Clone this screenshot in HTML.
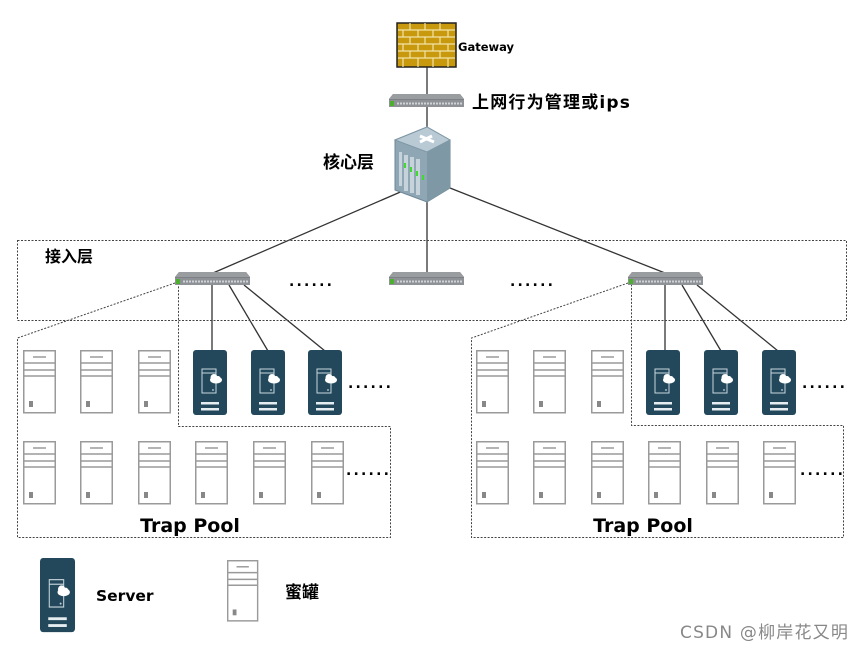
<!DOCTYPE html>
<html><head><meta charset="utf-8"><style>
html,body{margin:0;padding:0;background:#fff;}
svg{display:block;}
text{font-family:"DejaVu Sans","Noto Sans CJK SC",sans-serif;font-weight:bold;fill:#000;}
.d{letter-spacing:2.2px;}
</style></head><body>
<svg width="865" height="650" viewBox="0 0 865 650" xmlns="http://www.w3.org/2000/svg">
<defs>
<g id="hp">
<rect x="0.75" y="0.75" width="31.5" height="62" fill="#fff" stroke="#9a9a9a" stroke-width="1.5"/>
<line x1="10" y1="7" x2="23" y2="7" stroke="#9a9a9a" stroke-width="1.5"/>
<line x1="1" y1="13" x2="32" y2="13" stroke="#9a9a9a" stroke-width="1.5"/>
<line x1="1" y1="20" x2="32" y2="20" stroke="#9a9a9a" stroke-width="1.5"/>
<line x1="1" y1="26" x2="32" y2="26" stroke="#9a9a9a" stroke-width="1.5"/>
<rect x="6" y="51" width="4" height="6" fill="#888"/>
</g>
<g id="sv">
<rect x="0" y="0" width="34" height="65" rx="3" fill="#23485c"/>
<rect x="9" y="19" width="14" height="24" fill="none" stroke="#c9d6dc" stroke-width="1"/>
<line x1="9" y1="23" x2="23" y2="23" stroke="#c9d6dc"/>
<ellipse cx="23" cy="30" rx="6" ry="3.5" fill="#fff"/>
<circle cx="21" cy="27.5" r="3.5" fill="#fff"/>
<circle cx="25" cy="28.5" r="2.5" fill="#fff"/>
<circle cx="20" cy="40" r="0.9" fill="#c9d6dc"/>
<rect x="8" y="52" width="18" height="2.5" fill="#e6edf0"/>
<rect x="8" y="58" width="18" height="2.5" fill="#e6edf0"/>
</g>
<g id="sw">
<polygon points="4,0 71,0 75,5 75,13 0,13 0,5" fill="#7d8084"/>
<polygon points="4,0 71,0 75,5 0,5" fill="#9a9da0"/>
<rect x="0" y="6" width="75" height="7" fill="#8e9195"/>
<rect x="1" y="7" width="4" height="5" fill="#4caf2e"/>
<line x1="8" y1="9.5" x2="73" y2="9.5" stroke="#d0d3d6" stroke-width="2" stroke-dasharray="2 1"/>
</g>
</defs>

<g stroke="#333" stroke-width="1.3" fill="none">
<line x1="427" y1="67" x2="427" y2="130"/>
<line x1="405" y1="190" x2="213" y2="273"/>
<line x1="450" y1="188" x2="665" y2="273"/>
<line x1="427" y1="200" x2="427" y2="273"/>
<line x1="212" y1="285" x2="212" y2="351"/>
<line x1="229" y1="285" x2="268" y2="351"/>
<line x1="244" y1="285" x2="325" y2="351"/>
<line x1="665" y1="285" x2="665" y2="351"/>
<line x1="682" y1="285" x2="721" y2="351"/>
<line x1="697" y1="285" x2="778" y2="351"/>
</g>

<g stroke="#444" stroke-width="1" fill="none" stroke-dasharray="2 1.5">
<rect x="17.5" y="240.5" width="829" height="80"/>
<polyline points="175,283 17.5,338 17.5,537.5 390.5,537.5 390.5,426.5 178.5,426.5 178.5,283"/>
<polyline points="628,283 471.5,338 471.5,537.5 843.5,537.5 843.5,425.5 631.5,425.5 631.5,283"/>
</g>

<rect x="397" y="23" width="59" height="44" fill="#c8990d" stroke="#222" stroke-width="1.5"/>
<g stroke="#f3e3a8" stroke-width="1.2">
<line x1="398" y1="30" x2="455" y2="30"/><line x1="398" y1="37" x2="455" y2="37"/>
<line x1="398" y1="44" x2="455" y2="44"/><line x1="398" y1="51" x2="455" y2="51"/>
<line x1="398" y1="58" x2="455" y2="58"/>
<path d="M410 23v7M425 23v7M440 23v7M403 30v7M418 30v7M433 30v7M448 30v7M410 37v7M425 37v7M440 37v7M403 44v7M418 44v7M433 44v7M448 44v7M410 51v7M425 51v7M440 51v7M403 58v9M418 58v9M433 58v9M448 58v9"/>
</g>
<text x="458" y="51" font-size="11.5">Gateway</text>

<use href="#sw" x="389" y="94"/>
<text x="472" y="108" font-size="17" style="letter-spacing:1.2px">上网行为管理或ips</text>

<polygon points="395,140 427,127 450,140 450,188 427,202 395,190" fill="#8fa6b4" stroke="#6d8796"/>
<polygon points="395,140 427,127 450,140 427,152" fill="#b9cad4" stroke="#7f98a6"/>
<polygon points="427,152 450,140 450,188 427,202" fill="#7f98a6"/>
<path d="M420 136l14 6M432 136l-12 6" stroke="#fff" stroke-width="3"/>
<g fill="#c6d3da"><rect x="399" y="152" width="3" height="34"/><rect x="404" y="155" width="4" height="36"/><rect x="410" y="157" width="4" height="36"/><rect x="416" y="159" width="4" height="36"/></g>
<g fill="#3fdc2c"><rect x="404" y="163" width="2" height="5"/><rect x="410" y="167" width="2" height="5"/><rect x="416" y="171" width="2" height="5"/><rect x="422" y="175" width="2" height="5"/></g>
<text x="323" y="168" font-size="17">核心层</text>

<text x="45" y="262" font-size="16">接入层</text>
<use href="#sw" x="175" y="272"/>
<use href="#sw" x="389" y="272"/>
<use href="#sw" x="628" y="272"/>
<text class="d" x="289" y="286" font-size="14">......</text>
<text class="d" x="510" y="286" font-size="14">......</text>

<use href="#hp" x="23" y="350"/><use href="#hp" x="80" y="350"/><use href="#hp" x="138" y="350"/>
<use href="#sv" x="193" y="350"/><use href="#sv" x="251" y="350"/><use href="#sv" x="308" y="350"/>
<text class="d" x="348" y="388" font-size="14">......</text>
<use href="#hp" x="23" y="441"/><use href="#hp" x="80" y="441"/><use href="#hp" x="138" y="441"/>
<use href="#hp" x="195" y="441"/><use href="#hp" x="253" y="441"/><use href="#hp" x="311" y="441"/>
<text class="d" x="346" y="475" font-size="14">......</text>
<text x="190" y="532" font-size="19" text-anchor="middle">Trap Pool</text>

<use href="#hp" x="476" y="350"/><use href="#hp" x="533" y="350"/><use href="#hp" x="591" y="350"/>
<use href="#sv" x="646" y="350"/><use href="#sv" x="704" y="350"/><use href="#sv" x="762" y="350"/>
<text class="d" x="802" y="388" font-size="14">......</text>
<use href="#hp" x="476" y="441"/><use href="#hp" x="533" y="441"/><use href="#hp" x="591" y="441"/>
<use href="#hp" x="648" y="441"/><use href="#hp" x="706" y="441"/><use href="#hp" x="763" y="441"/>
<text class="d" x="800" y="475" font-size="14">......</text>
<text x="643" y="532" font-size="19" text-anchor="middle">Trap Pool</text>

<g transform="translate(40,558) scale(1.03,1.14)"><use href="#sv"/></g>
<text x="96" y="601" font-size="15.5">Server</text>
<g transform="translate(227,560) scale(0.95,0.97)"><use href="#hp"/></g>
<text x="285" y="598" font-size="17">蜜罐</text>

<text x="680" y="638" font-size="17" style="font-weight:normal;fill:#888;letter-spacing:1.2px">CSDN @柳岸花又明</text>
</svg>
</body></html>
